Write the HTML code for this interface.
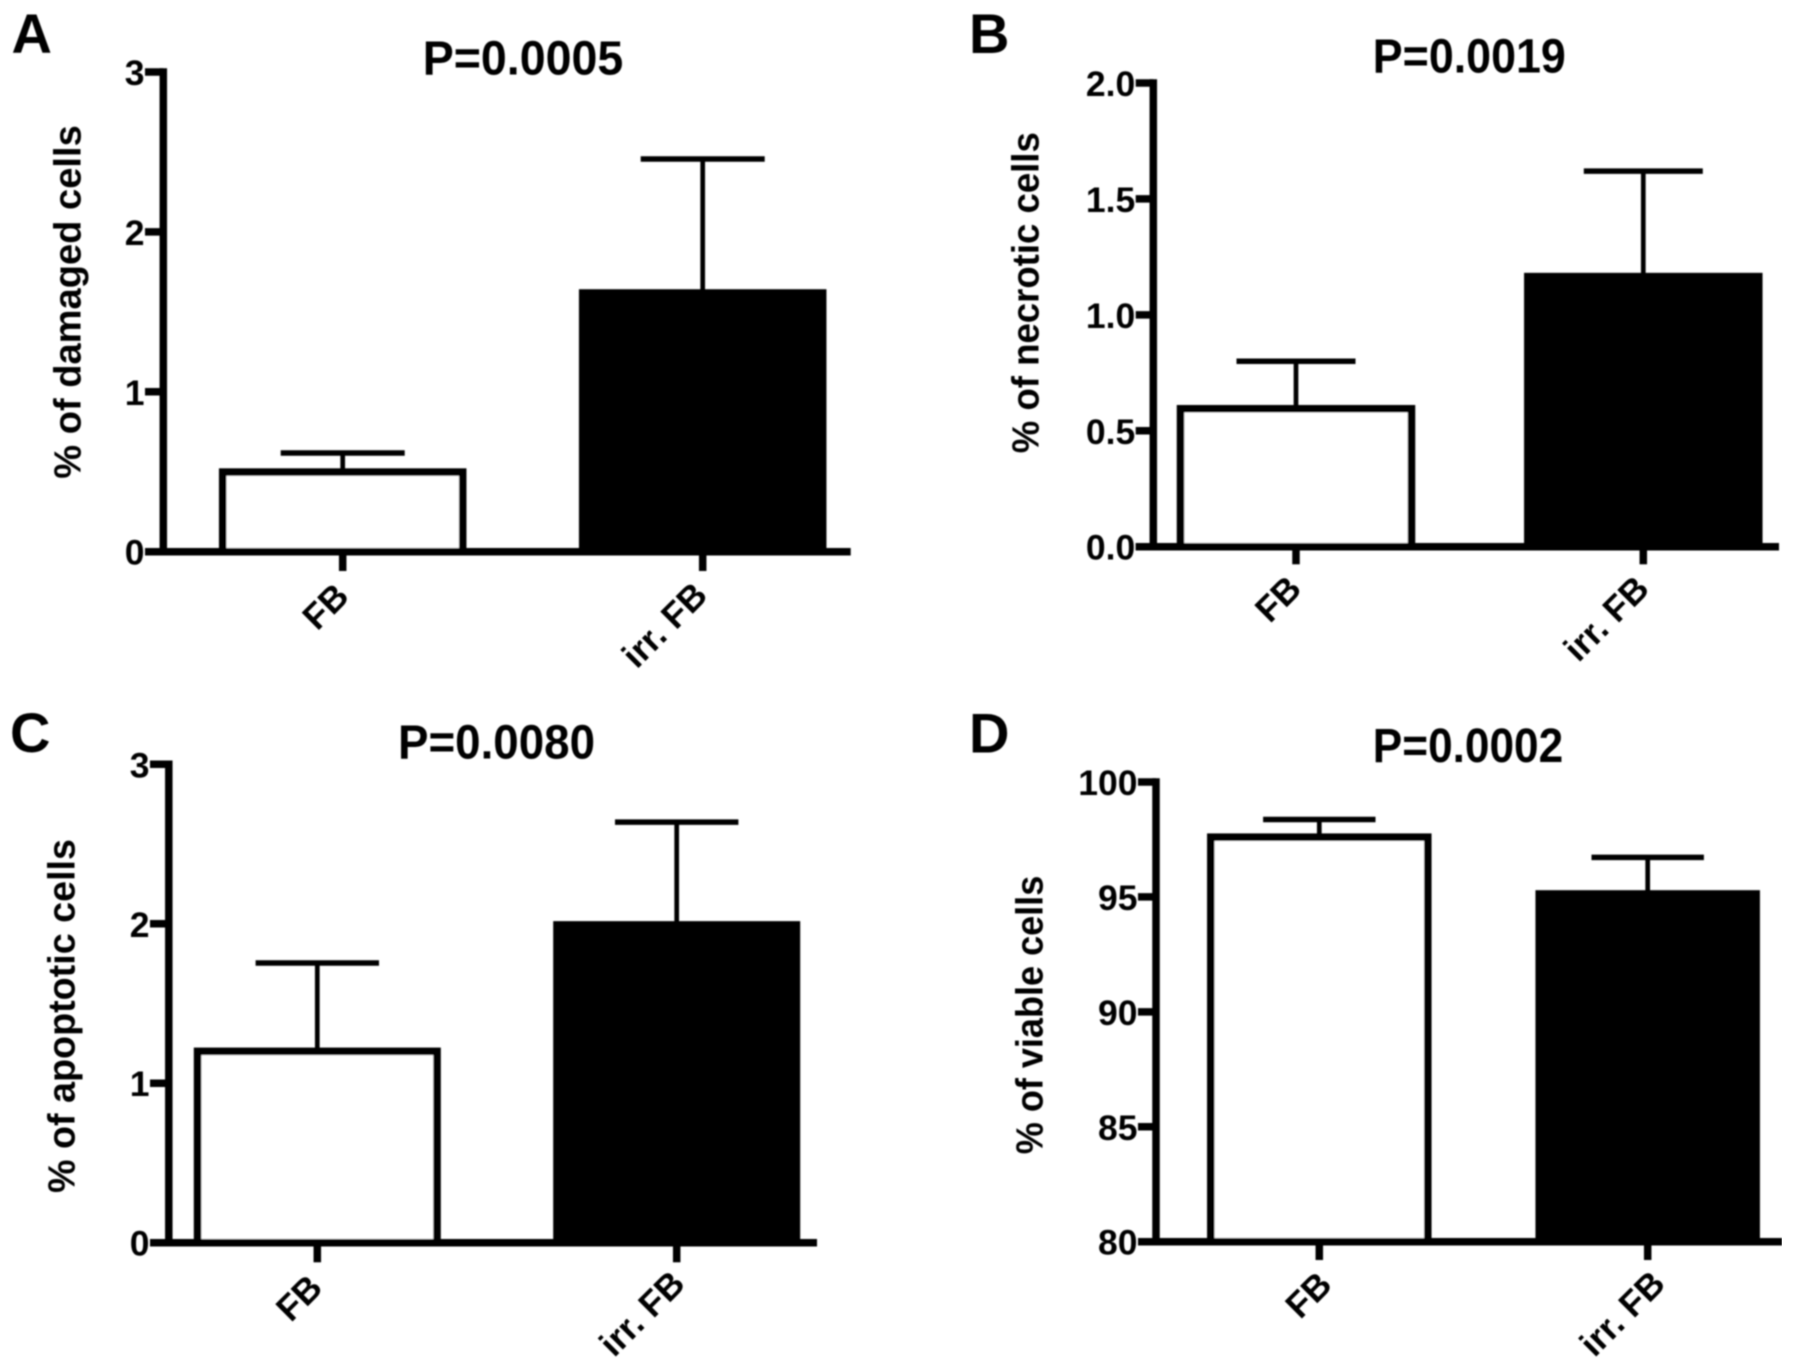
<!DOCTYPE html>
<html lang="en">
<head>
<meta charset="utf-8">
<title>Cell damage bar charts</title>
<style>
  html, body { margin: 0; padding: 0; background: #fff; overflow: hidden; }
  svg { display: block; }
  text { font-family: "Liberation Sans", Arial, sans-serif; font-weight: bold; fill: #000; }
</style>
</head>
<body>
<svg id="figure" xmlns="http://www.w3.org/2000/svg" width="1795" height="1367" viewBox="0 0 1795 1367">
  <defs><filter id="soft" x="0" y="0" width="100%" height="100%"><feGaussianBlur stdDeviation="0.7"/></filter></defs>
  <rect width="1795" height="1367" fill="#fff"/>
  <g id="root" filter="url(#soft)"></g>
</svg>
<script>
const categories = ['FB', 'irr. FB'];

const meansA = [0.498, 1.618];
const errorTopsA = [0.617, 2.456];
const ticksA = [0, 1, 2, 3];
const tickLabelsA = ['0', '1', '2', '3'];

const meansB = [0.595, 1.165];
const errorTopsB = [0.80, 1.62];
const ticksB = [0, 0.5, 1, 1.5, 2];
const tickLabelsB = ['0.0', '0.5', '1.0', '1.5', '2.0'];

const meansC = [1.20, 1.993];
const errorTopsC = [1.754, 2.637];
const ticksC = [0, 1, 2, 3];
const tickLabelsC = ['0', '1', '2', '3'];

const meansD = [97.6, 95.13];
const errorTopsD = [98.37, 96.72];
const ticksD = [80, 85, 90, 95, 100];
const tickLabelsD = ['80', '85', '90', '95', '100'];

const panels = [
  { id: 'a', letter: 'A', letterX: 11.5, letterY: 53, title: 'P=0.0005', titleX: 523, titleY: 74.5, titleW: 200.6,
    yTitle: '% of damaged cells', yTitleX: 80.4, yTitleY: 302, yTitleLen: 353.5,
    means: meansA, errorTops: errorTopsA, ticks: ticksA, tickLabels: tickLabelsA,
    axisX: 163.3, top: 72, base: 551.7, tickLeft: 145, right: 850.7, first: 342.7, step: 360, barW: 240, capW: 124, tickBottom: 571, labelDx: [8, 6.6], labelDy: [46.5, 45.5] },
  { id: 'b', letter: 'B', letterX: 969, letterY: 53, title: 'P=0.0019', titleX: 1469.3, titleY: 72.5, titleW: 193,
    yTitle: '% of necrotic cells', yTitleX: 1038.7, yTitleY: 292.7, yTitleLen: 321,
    means: meansB, errorTops: errorTopsB, ticks: ticksB, tickLabels: tickLabelsB,
    axisX: 1153.3, top: 83, base: 546.7, tickLeft: 1135.7, right: 1779, first: 1296, step: 347.3, barW: 231, capW: 119, tickBottom: 564.3, labelDx: [7.3, 7.7], labelDy: [44, 44] },
  { id: 'c', letter: 'C', letterX: 10, letterY: 752, title: 'P=0.0080', titleX: 496.5, titleY: 758.5, titleW: 197,
    yTitle: '% of apoptotic cells', yTitleX: 74.6, yTitleY: 1016, yTitleLen: 354,
    means: meansC, errorTops: errorTopsC, ticks: ticksC, tickLabels: tickLabelsC,
    axisX: 168.8, top: 764.3, base: 1242.7, tickLeft: 150, right: 817, first: 317.3, step: 359.4, barW: 239.5, capW: 123.4, tickBottom: 1262.3, labelDx: [7, 10], labelDy: [47, 43] },
  { id: 'd', letter: 'D', letterX: 969, letterY: 752.6, title: 'P=0.0002', titleX: 1468, titleY: 762, titleW: 190.4,
    yTitle: '% of viable cells', yTitleX: 1042.7, yTitleY: 1015, yTitleLen: 278.5,
    means: meansD, errorTops: errorTopsD, ticks: ticksD, tickLabels: tickLabelsD,
    axisX: 1156, top: 782, base: 1241.7, tickLeft: 1138, right: 1782, first: 1319.3, step: 328.4, barW: 217, capW: 112.4, tickBottom: 1260, labelDx: [14.4, 19.3], labelDy: [45, 44] }
];

const STROKE = 7.5;
const SVG_NS = 'http://www.w3.org/2000/svg';
const root = document.getElementById('root');

function make(parent, tag, attrs, content) {
  const node = document.createElementNS(SVG_NS, tag);
  for (const key in attrs) node.setAttribute(key, attrs[key]);
  if (content !== undefined) node.textContent = content;
  parent.appendChild(node);
  return node;
}

function drawPanel(p) {
  const yMin = p.ticks[0];
  const yMax = p.ticks[p.ticks.length - 1];
  const yScale = v => p.base - (v - yMin) / (yMax - yMin) * (p.base - p.top);
  const xScale = i => p.first + i * p.step;

  const group = make(root, 'g', {});
  
  

  const letter = make(group, 'text', { x: p.letterX, y: p.letterY, 'font-size': 56 }, p.letter);
  
  

  const title = make(group, 'text', { x: p.titleX, y: p.titleY, 'font-size': 48, 'text-anchor': 'middle',
    textLength: p.titleW, lengthAdjust: 'spacingAndGlyphs' }, p.title);
  
  

  const yTitle = make(group, 'text', { 'font-size': 38, 'text-anchor': 'middle', x: 0, y: 0,
    textLength: p.yTitleLen, lengthAdjust: 'spacingAndGlyphs',
    transform: 'translate(' + p.yTitleX + ' ' + p.yTitleY + ') rotate(-90)' }, p.yTitle);
  
  

  p.means.forEach((mean, i) => {
    const cx = xScale(i);
    const yTop = yScale(mean);
    const yErr = yScale(p.errorTops[i]);
    const whisker = make(group, 'line', { x1: cx, x2: cx, y1: yTop, y2: yErr, stroke: '#000', 'stroke-width': 4.7 });
    
    
    const cap = make(group, 'line', { x1: cx - p.capW / 2, x2: cx + p.capW / 2, y1: yErr, y2: yErr, stroke: '#000', 'stroke-width': 5.5 });
    
    
    const bar = make(group, 'rect', { x: cx - p.barW / 2, y: yTop, width: p.barW, height: p.base - yTop,
      fill: i === 0 ? '#fff' : '#000', stroke: '#000', 'stroke-width': STROKE });
    
    
    const xTick = make(group, 'line', { x1: cx, x2: cx, y1: p.base, y2: p.tickBottom, stroke: '#000', 'stroke-width': STROKE });
    
    
    const label = make(group, 'text', { 'font-size': 35.5, 'text-anchor': 'end', x: 0, y: 0,
      transform: 'translate(' + (cx + p.labelDx[i]) + ' ' + (p.base + p.labelDy[i]) + ') rotate(-45)' }, categories[i]);
    
    
  });

  const yAxis = make(group, 'line', { x1: p.axisX, x2: p.axisX, y1: p.top - STROKE / 2, y2: p.base + STROKE / 2, stroke: '#000', 'stroke-width': STROKE });
  
  
  const xAxis = make(group, 'line', { x1: p.tickLeft, x2: p.right, y1: p.base, y2: p.base, stroke: '#000', 'stroke-width': STROKE });
  
  

  p.ticks.forEach((t, i) => {
    const y = yScale(t);
    const tick = make(group, 'line', { x1: p.tickLeft, x2: p.axisX, y1: y, y2: y, stroke: '#000', 'stroke-width': STROKE });
    
    
    const label = make(group, 'text', { 'font-size': 35.5, 'text-anchor': 'end', x: 0, y: 0,
      transform: 'translate(' + (p.tickLeft - 0.5) + ' ' + (y + 13) + ')' }, p.tickLabels[i]);
    
    
  });
}

panels.forEach(drawPanel);
</script>
</body>
</html>
